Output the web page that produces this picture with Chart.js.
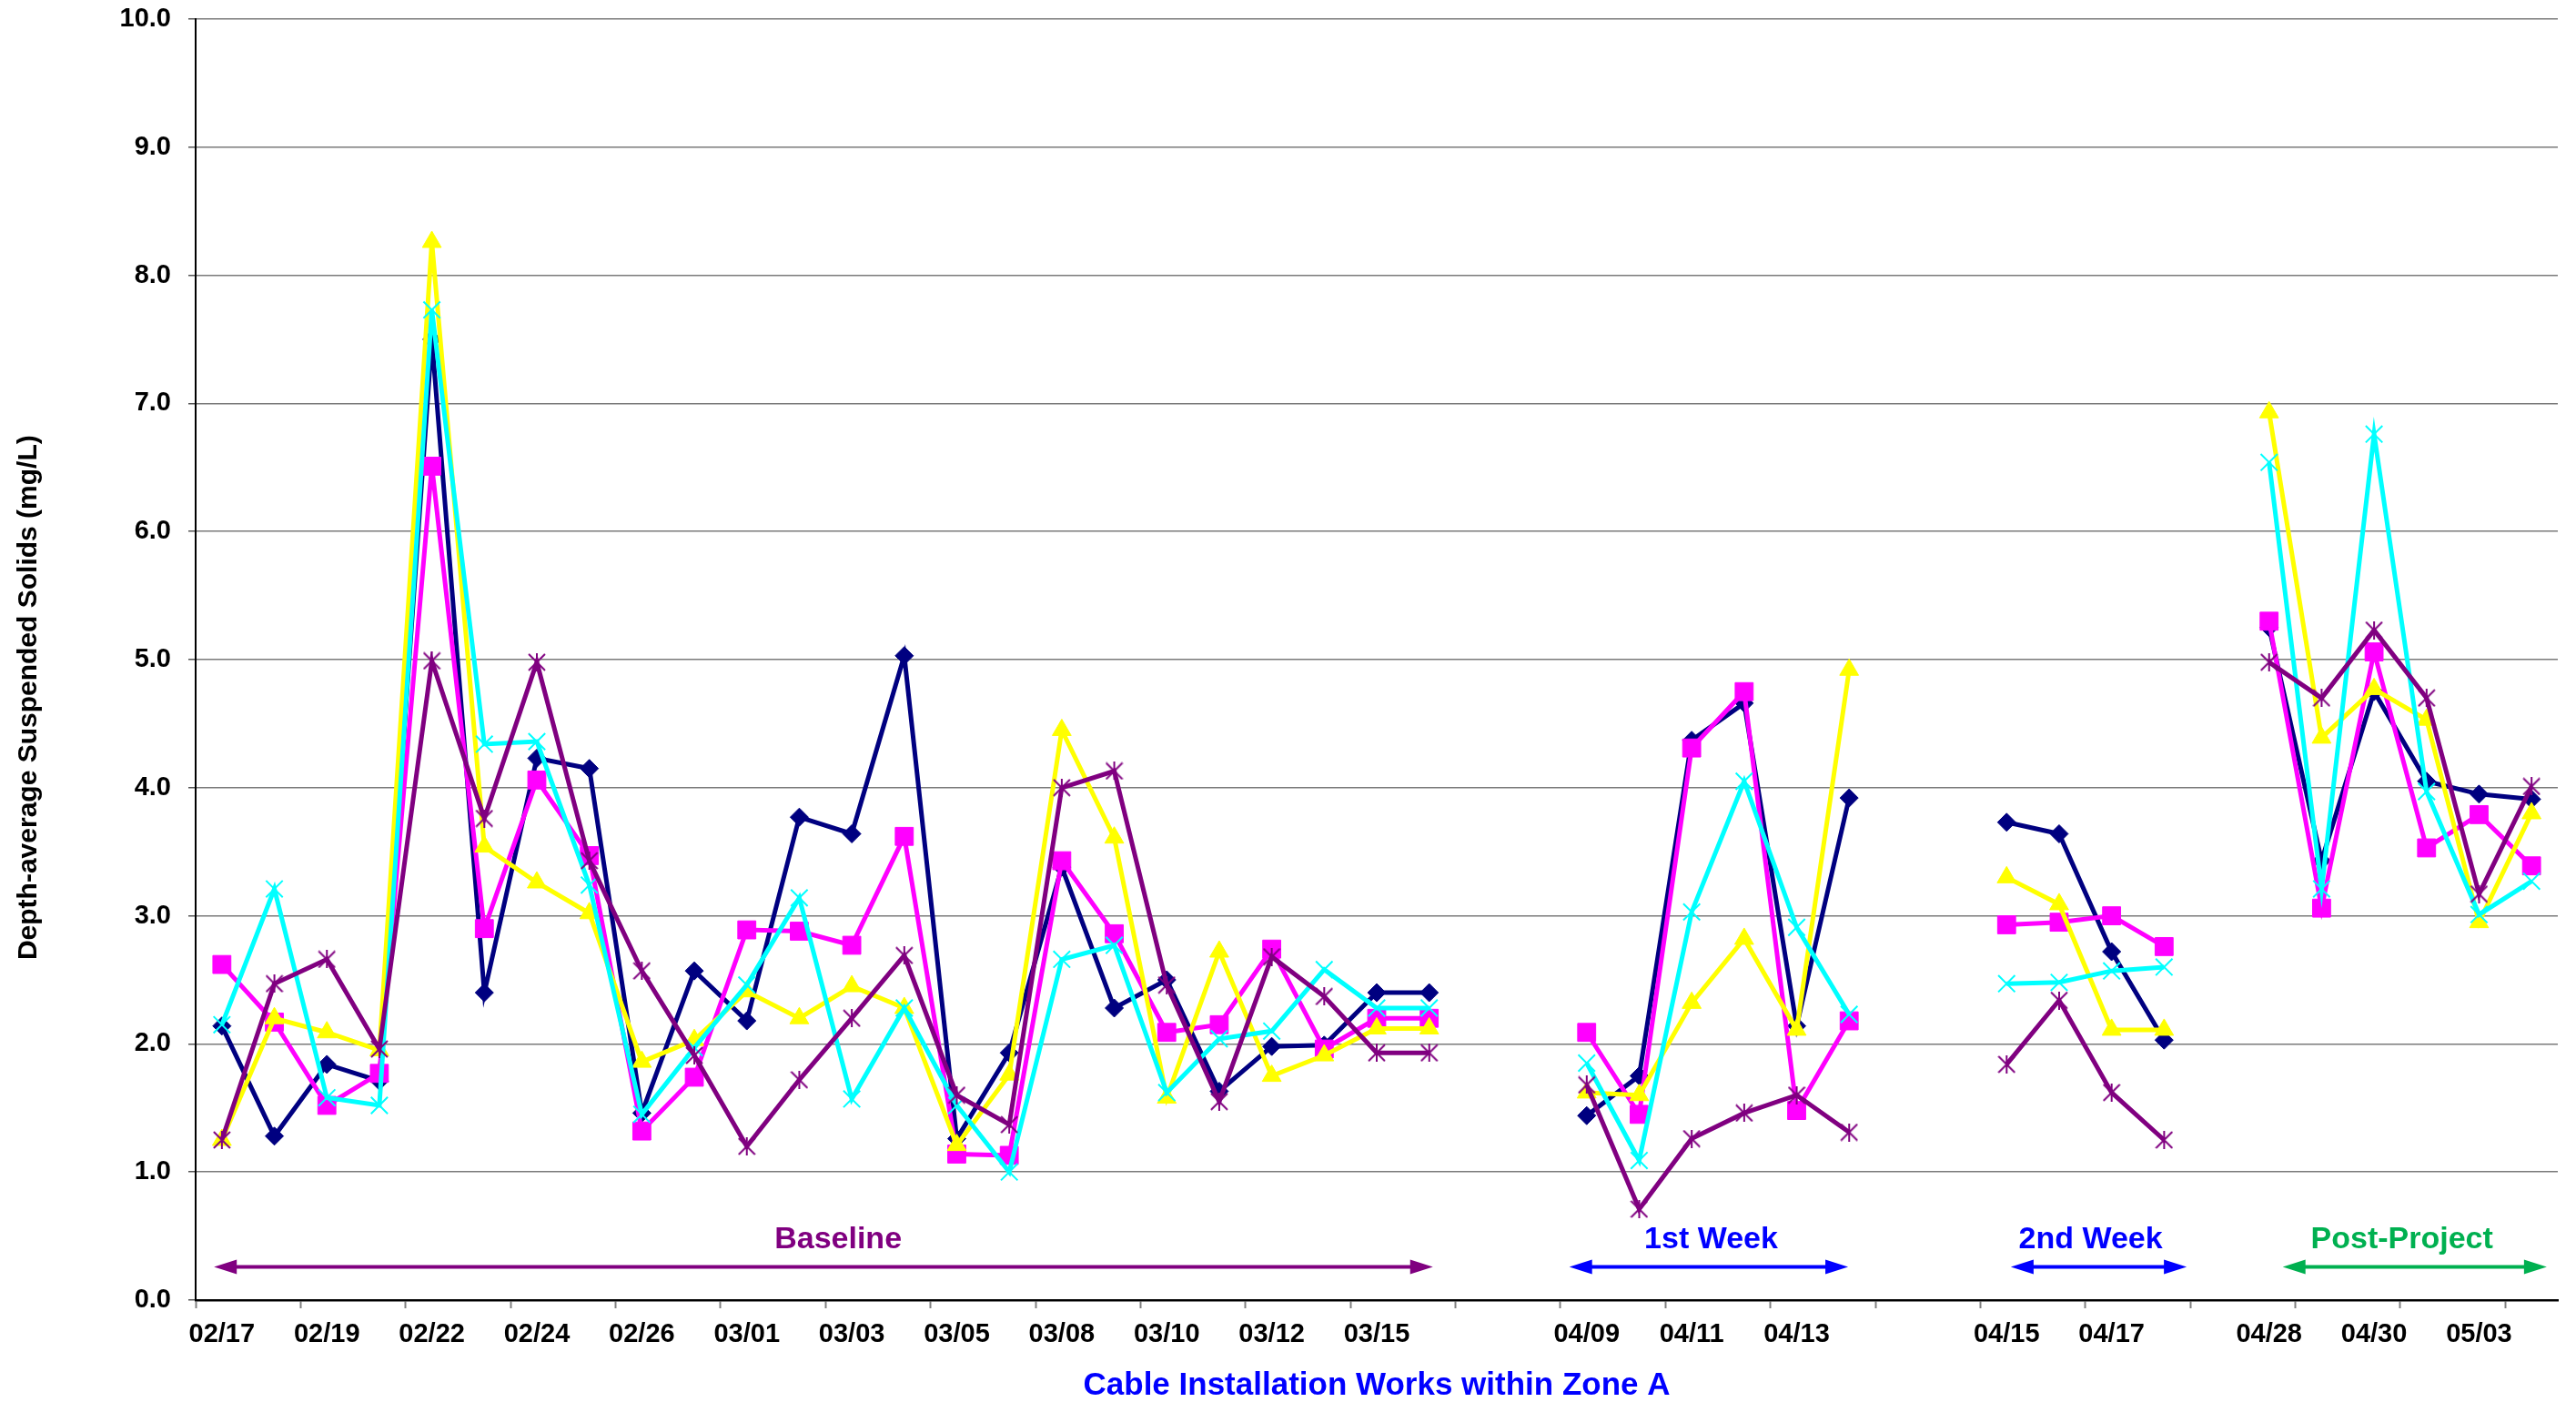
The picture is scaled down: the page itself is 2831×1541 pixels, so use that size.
<!DOCTYPE html>
<html>
<head>
<meta charset="utf-8">
<script src="https://cdn.jsdelivr.net/npm/chart.js@4.4.1/dist/chart.umd.min.js"></script>
<style>
  html, body { margin: 0; padding: 0; background: #ffffff; }
  #wrap { width: 2831px; height: 1541px; position: relative; }
</style>
</head>
<body>
<div id="wrap"><canvas id="tss"></canvas></div>
<script>
// Category slots along the date axis (blank slots carry no printed label;
// slots 24-25, 32-33 and 38 separate the monitoring periods).
const categories = [
  '02/17', '', '02/19', '', '02/22', '', '02/24', '', '02/26', '', '03/01', '',
  '03/03', '', '03/05', '', '03/08', '', '03/10', '', '03/12', '', '03/15', '',
  '', '',
  '04/09', '', '04/11', '', '04/13', '',
  '', '',
  '04/15', '', '04/17', '',
  '',
  '04/28', '', '04/30', '', '05/03', ''
];

// Depth-average suspended solids (mg/L) per monitoring station
const station1 = [2.14, 1.28, 1.84, 1.71, 7.50, 2.40, 4.23, 4.15, 1.46, 2.57, 2.18, 3.77,
  3.64, 5.03, 1.26, 1.93, 3.38, 2.28, 2.50, 1.63, 1.98, 1.99, 2.40, 2.40,
  null, null, 1.44, 1.75, 4.37, 4.66, 2.14, 3.92,
  null, null, 3.73, 3.64, 2.72, 2.03,
  null, 5.25, 3.43, 4.75, 4.05, 3.95, 3.91];
const station2 = [2.62, 2.17, 1.52, 1.77, 6.51, 2.90, 4.06, 3.47, 1.32, 1.74, 2.89, 2.88,
  2.77, 3.62, 1.14, 1.13, 3.43, 2.86, 2.09, 2.15, 2.74, 1.96, 2.20, 2.20,
  null, null, 2.09, 1.45, 4.31, 4.75, 1.48, 2.18,
  null, null, 2.93, 2.95, 3.00, 2.76,
  null, 5.30, 3.06, 5.06, 3.53, 3.79, 3.39];
const station3 = [1.25, 2.20, 2.09, 1.95, 8.26, 3.54, 3.26, 3.02, 1.86, 2.03, 2.41, 2.20,
  2.45, 2.28, 1.21, 1.76, 4.45, 3.61, 1.58, 2.72, 1.75, 1.91, 2.12, 2.12,
  null, null, 1.62, 1.60, 2.32, 2.82, 2.11, 4.92,
  null, null, 3.30, 3.09, 2.11, 2.11,
  null, 6.93, 4.39, 4.77, 4.53, 2.95, 3.80];
const station4 = [2.15, 3.21, 1.58, 1.52, 7.73, 4.34, 4.36, 3.24, 1.45, 1.97, 2.46, 3.14,
  1.57, 2.28, 1.52, 1.00, 2.66, 2.77, 1.62, 2.04, 2.10, 2.58, 2.28, 2.28,
  null, null, 1.85, 1.09, 3.03, 4.05, 2.91, 2.23,
  null, null, 2.47, 2.48, 2.57, 2.60,
  null, 6.54, 3.21, 6.76, 3.97, 3.01, 3.27];
const station5 = [1.25, 2.47, 2.66, 1.96, 4.99, 3.76, 4.98, 3.43, 2.57, 1.91, 1.20, 1.72,
  2.20, 2.69, 1.60, 1.37, 4.00, 4.13, 2.46, 1.55, 2.68, 2.37, 1.93, 1.93,
  null, null, 1.68, 0.71, 1.26, 1.46, 1.60, 1.31,
  null, null, 1.84, 2.34, 1.62, 1.25,
  null, 4.98, 4.70, 5.23, 4.70, 3.17, 4.01];

// Y axis tick values
const yTicks = [0, 1, 2, 3, 4, 5, 6, 7, 8, 9, 10];

// Period markers drawn under the plot (positions in category-index units)
const periods = [
  { text: 'Baseline',     from: -0.15, to: 23.07, labelAt: 11.74, color: '#800080' },
  { text: '1st Week',     from: 25.67, to: 30.98, labelAt: 28.37, color: '#0000FF' },
  { text: '2nd Week',     from: 34.08, to: 37.43, labelAt: 35.60, color: '#0000FF' },
  { text: 'Post-Project', from: 39.26, to: 44.29, labelAt: 41.53, color: '#00B050' }
];

const BOLD = '"Liberation Sans", Arial, sans-serif';

// Excel-style asterisk marker: an x with a vertical bar
function asteriskMarker(size, color, lw) {
  const c = document.createElement('canvas');
  c.width = size; c.height = size;
  const g = c.getContext('2d');
  g.strokeStyle = color;
  g.lineWidth = lw;
  g.lineCap = 'butt';
  const m = size / 2, d = size / 2 - 1;
  g.beginPath();
  g.moveTo(m - d, m - d); g.lineTo(m + d, m + d);
  g.moveTo(m + d, m - d); g.lineTo(m - d, m + d);
  g.moveTo(m, 0); g.lineTo(m, size);
  g.stroke();
  return c;
}

const periodArrows = {
  id: 'periodArrows',
  afterDatasetsDraw(chart) {
    const { ctx, scales: { x, y } } = chart;
    const lineY = y.getPixelForValue(0.26);
    const textY = y.getPixelForValue(0.47);
    const headLen = 25, headHalf = 8;
    ctx.save();
    periods.forEach(p => {
      const x0 = x.getPixelForValue(p.from);
      const x1 = x.getPixelForValue(p.to);
      ctx.strokeStyle = p.color;
      ctx.fillStyle = p.color;
      ctx.lineWidth = 4;
      ctx.beginPath();
      ctx.moveTo(x0 + headLen - 2, lineY);
      ctx.lineTo(x1 - headLen + 2, lineY);
      ctx.stroke();
      ctx.beginPath();
      ctx.moveTo(x0, lineY);
      ctx.lineTo(x0 + headLen, lineY - headHalf);
      ctx.lineTo(x0 + headLen, lineY + headHalf);
      ctx.closePath();
      ctx.fill();
      ctx.beginPath();
      ctx.moveTo(x1, lineY);
      ctx.lineTo(x1 - headLen, lineY - headHalf);
      ctx.lineTo(x1 - headLen, lineY + headHalf);
      ctx.closePath();
      ctx.fill();
      ctx.font = 'bold 34px ' + BOLD;
      ctx.textAlign = 'center';
      ctx.textBaseline = 'middle';
      ctx.fillText(p.text, x.getPixelForValue(p.labelAt), textY);
    });
    ctx.restore();
  }
};

function series(label, data, color, style, radius, order, extra) {
  return Object.assign({
    label, data, order,
    borderColor: color,
    backgroundColor: color,
    borderWidth: 5,
    pointStyle: style,
    pointRadius: radius,
    pointHoverRadius: radius,
    pointBackgroundColor: color,
    pointBorderColor: color,
    pointBorderWidth: 1,
    spanGaps: false,
    tension: 0,
    fill: false
  }, extra || {});
}

new Chart(document.getElementById('tss'), {
  type: 'line',
  data: {
    labels: categories,
    datasets: [
      series('Station 1', station1, '#000080', 'rectRot', 10, 5),
      series('Station 2', station2, '#FF00FF', 'rect', 14, 4),
      series('Station 3', station3, '#FFFF00', 'triangle', 12, 3),
      series('Station 4', station4, '#00FFFF', 'crossRot', 13, 2, { pointBorderWidth: 2 }),
      series('Station 5', station5, '#800080', asteriskMarker(20, '#800080', 2), 10, 1)
    ]
  },
  options: {
    responsive: true,
    maintainAspectRatio: false,
    animation: false,
    devicePixelRatio: 1,
    layout: { padding: { top: 21, right: 20, left: 0, bottom: 0 } },
    plugins: {
      legend: { display: false },
      tooltip: { enabled: false },
      title: { display: false }
    },
    scales: {
      x: {
        type: 'category',
        offset: true,
        afterFit(scale) { scale.height = 112; },
        border: { display: true, color: '#000000', width: 2.5 },
        grid: {
          offset: true,
          drawOnChartArea: false,
          drawTicks: true,
          tickLength: 9,
          tickWidth: 2,
          tickColor: ctx => (ctx.index !== undefined && ctx.index % 2 === 0) ? '#808080' : 'rgba(0,0,0,0)'
        },
        ticks: {
          autoSkip: false,
          maxRotation: 0,
          minRotation: 0,
          padding: 12,
          color: '#000000',
          font: { family: BOLD, size: 29, weight: 'bold' }
        },
        title: {
          display: true,
          text: 'Cable Installation Works within Zone A',
          color: '#0000FF',
          font: { family: BOLD, size: 35, weight: 'bold', lineHeight: 1 },
          padding: { top: 0, bottom: 0 }
        }
      },
      y: {
        min: 0,
        max: 10,
        afterFit(scale) { scale.width = 215; scale.paddingTop = 0; },
        afterBuildTicks(scale) { scale.ticks = yTicks.map(v => ({ value: v })); },
        border: { display: true, color: '#000000', width: 2 },
        grid: {
          color: '#7a7a7a',
          lineWidth: 1.5,
          borderDash: [2, 2],
          drawTicks: true,
          tickLength: 8,
          tickColor: '#555555',
          tickWidth: 1.5,
          tickBorderDash: []
        },
        ticks: {
          padding: 19,
          color: '#000000',
          font: { family: BOLD, size: 29, weight: 'bold' },
          callback: v => Number(v).toFixed(1)
        },
        title: {
          display: true,
          text: 'Depth-average Suspended Solids (mg/L)' + '\u00a0'.repeat(10),
          color: '#000000',
          font: { family: BOLD, size: 30, weight: 'bold', lineHeight: 1 },
          padding: { top: 17, bottom: 0 }
        }
      }
    }
  },
  plugins: [periodArrows]
});
</script>
</body>
</html>
